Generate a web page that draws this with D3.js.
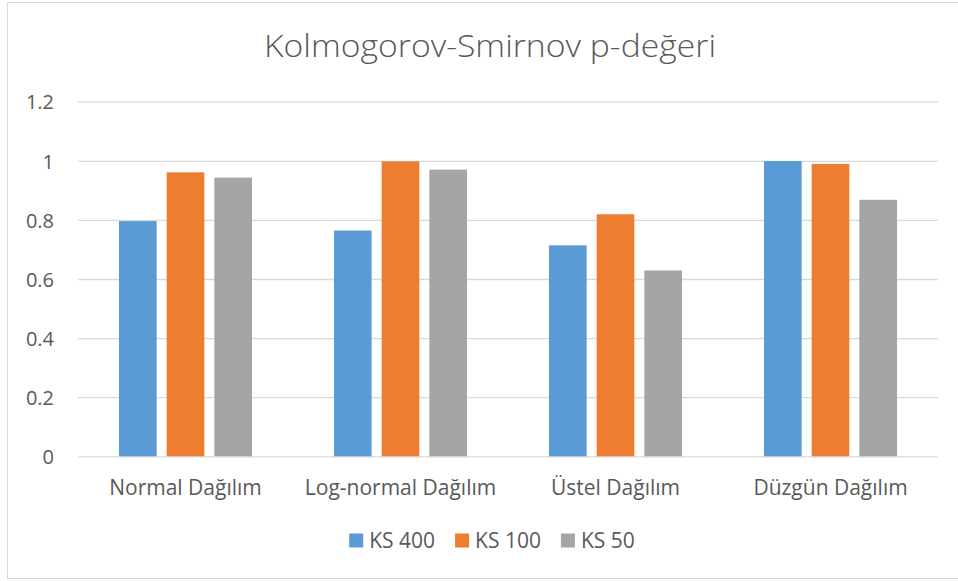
<!DOCTYPE html>
<html>
<head>
<meta charset="utf-8">
<script src="https://cdn.jsdelivr.net/npm/d3@7"></script>
<style>
  html, body { margin: 0; padding: 0; background: #ffffff; }
  svg { display: block; }
  text { font-family: "Open Sans", "Noto Sans", sans-serif; fill: #595959; }
</style>
</head>
<body>
<svg id="chart" width="958" height="581"></svg>
<script>
// Chart data
const title = "Kolmogorov-Smirnov p-değeri";
const categories = ["Normal Dağılım", "Log-normal Dağılım", "Üstel Dağılım", "Düzgün Dağılım"];
const seriesNames = ["KS 400", "KS 100", "KS 50"];
const ks400 = [0.796, 0.764, 0.714, 0.999];
const ks100 = [0.961, 0.998, 0.819, 0.989];
const ks50  = [0.943, 0.970, 0.629, 0.868];
const yTicks = [0, 0.2, 0.4, 0.6, 0.8, 1, 1.2];
const seriesColors = ["#5B9BD5", "#ED7D31", "#A5A5A5"];

const seriesValues = [ks400, ks100, ks50];
const rows = categories.map((c, i) => ({
  category: c,
  values: seriesNames.map((s, j) => ({ series: s, value: seriesValues[j][i] }))
}));

const plot = { left: 78, right: 938, top: 101.7, bottom: 456.3 };

const svg = d3.select("#chart");

// Chart area border
svg.append("rect")
  .attr("x", 7.5).attr("y", 2.5)
  .attr("width", 962).attr("height", 576)
  .attr("fill", "#ffffff")
  .attr("stroke", "#d9d9d9").attr("stroke-width", 1);

// Scales
const x0 = d3.scaleBand().domain(categories).range([plot.left, plot.right]).padding(0);
const x1 = d3.scaleBand().domain(seriesNames).range([0, x0.bandwidth()])
  .paddingInner(0.21).paddingOuter(0.859);
const y = d3.scaleLinear().domain([0, 1.2]).range([plot.bottom, plot.top]);
const color = d3.scaleOrdinal().domain(seriesNames).range(seriesColors);

// Gridlines
const yAxisGrid = d3.axisLeft(y).tickValues(yTicks)
  .tickSize(-(plot.right - plot.left)).tickFormat("");
const grid = svg.append("g")
  .attr("transform", `translate(${plot.left},0)`)
  .call(yAxisGrid);
grid.select(".domain").remove();
grid.selectAll(".tick line").attr("stroke", "#d9d9d9").attr("stroke-width", 1.3);

// Y tick labels
const yAxis = d3.axisLeft(y).tickValues(yTicks).tickSize(0).tickPadding(0)
  .tickFormat(d => d3.format("~g")(d));
const ya = svg.append("g")
  .attr("transform", `translate(54,0)`)
  .call(yAxis);
ya.select(".domain").remove();
ya.selectAll(".tick text")
  .attr("font-size", 20)
  .attr("fill", "#595959")
  .attr("font-family", "Open Sans, sans-serif")
  .attr("dy", "0.36em");

// Bars
const groups = svg.append("g").selectAll("g")
  .data(rows).join("g")
  .attr("transform", d => `translate(${x0(d.category)},0)`);
groups.selectAll("rect")
  .data(d => d.values).join("rect")
  .attr("x", d => x1(d.series))
  .attr("y", d => y(d.value))
  .attr("width", x1.bandwidth())
  .attr("height", d => y(0) - y(d.value))
  .attr("fill", d => color(d.series));

// Category labels
const xAxis = d3.axisBottom(x0).tickSize(0).tickPadding(0);
const xa = svg.append("g")
  .attr("transform", `translate(0,495)`)
  .call(xAxis);
xa.select(".domain").remove();
xa.selectAll(".tick text")
  .attr("font-size", 21)
  .attr("fill", "#595959")
  .attr("font-family", "Open Sans, sans-serif")
  .attr("dy", 0)
  .attr("y", 0);

// Title
svg.append("text")
  .attr("x", 490).attr("y", 57)
  .attr("text-anchor", "middle")
  .attr("font-size", 32)
  .attr("font-weight", 300)
  .attr("fill", "#595959")
  .attr("textLength", 452)
  .attr("lengthAdjust", "spacingAndGlyphs")
  .text(title);

// Legend
const legend = svg.append("g");
const items = legend.selectAll("g").data(seriesNames).join("g");
items.append("rect")
  .attr("width", 14).attr("height", 14)
  .attr("y", 533.5)
  .attr("fill", d => color(d));
items.append("text")
  .attr("x", 20).attr("y", 548)
  .attr("font-size", 21)
  .attr("fill", "#595959")
  .text(d => d);
const widths = [];
items.each(function () {
  widths.push(20 + d3.select(this).select("text").node().getComputedTextLength());
});
const gapBetween = 20;
const total = d3.sum(widths) + gapBetween * (widths.length - 1);
let start = 492 - total / 2;
items.attr("transform", (d, i) => {
  const t = `translate(${start},0)`;
  start += widths[i] + gapBetween;
  return t;
});
</script>
</body>
</html>
